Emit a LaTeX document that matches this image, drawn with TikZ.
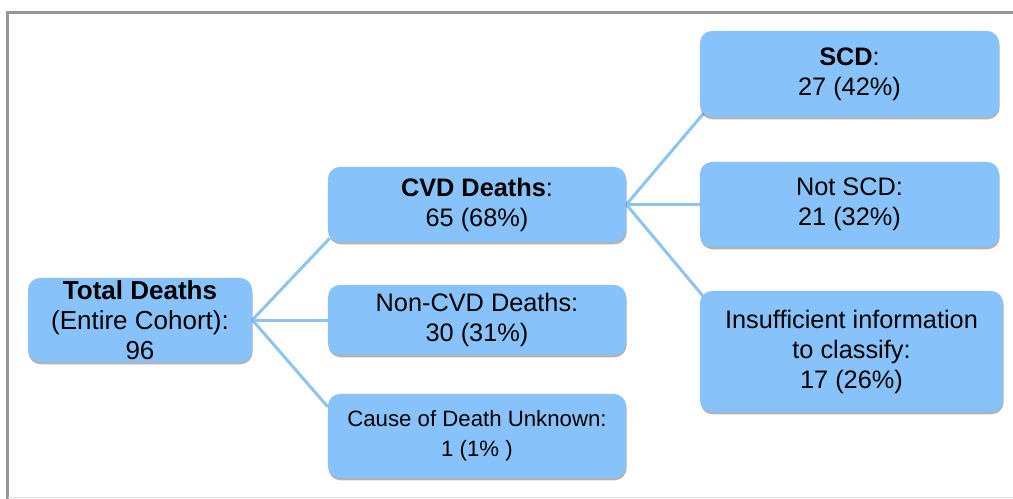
\documentclass[tikz,border=0pt]{standalone}
\usepackage{fontspec}
\setmainfont{Liberation Sans}
\usepackage{tikz}
\usetikzlibrary{calc}
\usetikzlibrary{shadows,backgrounds}
\definecolor{boxblue}{RGB}{135,195,250}
\definecolor{linkblue}{RGB}{142,196,240}
\definecolor{framegray}{RGB}{150,150,150}
\tikzset{causebox/.style={rounded corners=0.3cm, fill=boxblue, inner sep=0pt, align=center, font=\fontsize{18}{21.3}\selectfont, execute at begin node={\rule{0pt}{17pt}}, drop shadow={shadow xshift=0.4pt, shadow yshift=-1.6pt, opacity=0.3, fill=black}}, link/.style={linkblue, line width=0.075cm}}

\begin{document}
\begin{tikzpicture}[x=0.025cm, y=-0.025cm]

	% frame of the figure
	\useasboundingbox (0,0) rectangle (1013,499);
	\draw [framegray, line width=0.075cm] (7.5,499) -- (7.5,12.5) -- (1013,12.5);
	\draw [gray!25, line width=0.03cm] (7.5,497.5) -- (1013,497.5);

	% first level
	\node [causebox, minimum width=5.6cm, minimum height=2.1cm, font=\fontsize{18.5}{21.3}\selectfont] (total) at (140,320) {\textbf{Total Deaths}\\(Entire Cohort):\\96};

	% second level
	\node [causebox, minimum width=7.45cm, minimum height=1.875cm] (cvd) at (477,204.5) {\textbf{CVD Deaths}:\\65 (68\%)};
	\node [causebox, minimum width=7.45cm, minimum height=1.75cm] (noncvd) at (477,320) {Non-CVD Deaths:\\30 (31\%)};
	\node [causebox, minimum width=7.45cm, minimum height=2.1cm, font=\fontsize{15.8}{21.3}\selectfont] (unknown) at (477,436) {Cause of Death Unknown:\\1 (1\% )};

	% third level
	\node [causebox, minimum width=7.475cm, minimum height=2.15cm] (scd) at (849.5,74) {\textbf{SCD}:\\27 (42\%)};
	\node [causebox, minimum width=7.475cm, minimum height=2.125cm] (notscd) at (849.5,204.5) {Not SCD:\\21 (32\%)};
	\node [causebox, minimum width=7.575cm, minimum height=3.025cm] (insuff) at (851.5,351.5) {Insufficient information\\to classify:\\17 (26\%)};

	% connectors
	\begin{scope}[on background layer]
		\draw [link] (total.east) -- ($(cvd.south west)+(2,-4)$);
		\draw [link] (total.east) -- (noncvd.west);
		\draw [link] (total.east) -- ($(unknown.north west)+(0,13)$);
		\draw [link] (cvd.east) -- ($(scd.south west)+(4,-4)$);
		\draw [link] (cvd.east) -- (notscd.west);
		\draw [link] (cvd.east) -- ($(insuff.north west)+(3,5)$);
	\end{scope}

\end{tikzpicture}
\end{document}
